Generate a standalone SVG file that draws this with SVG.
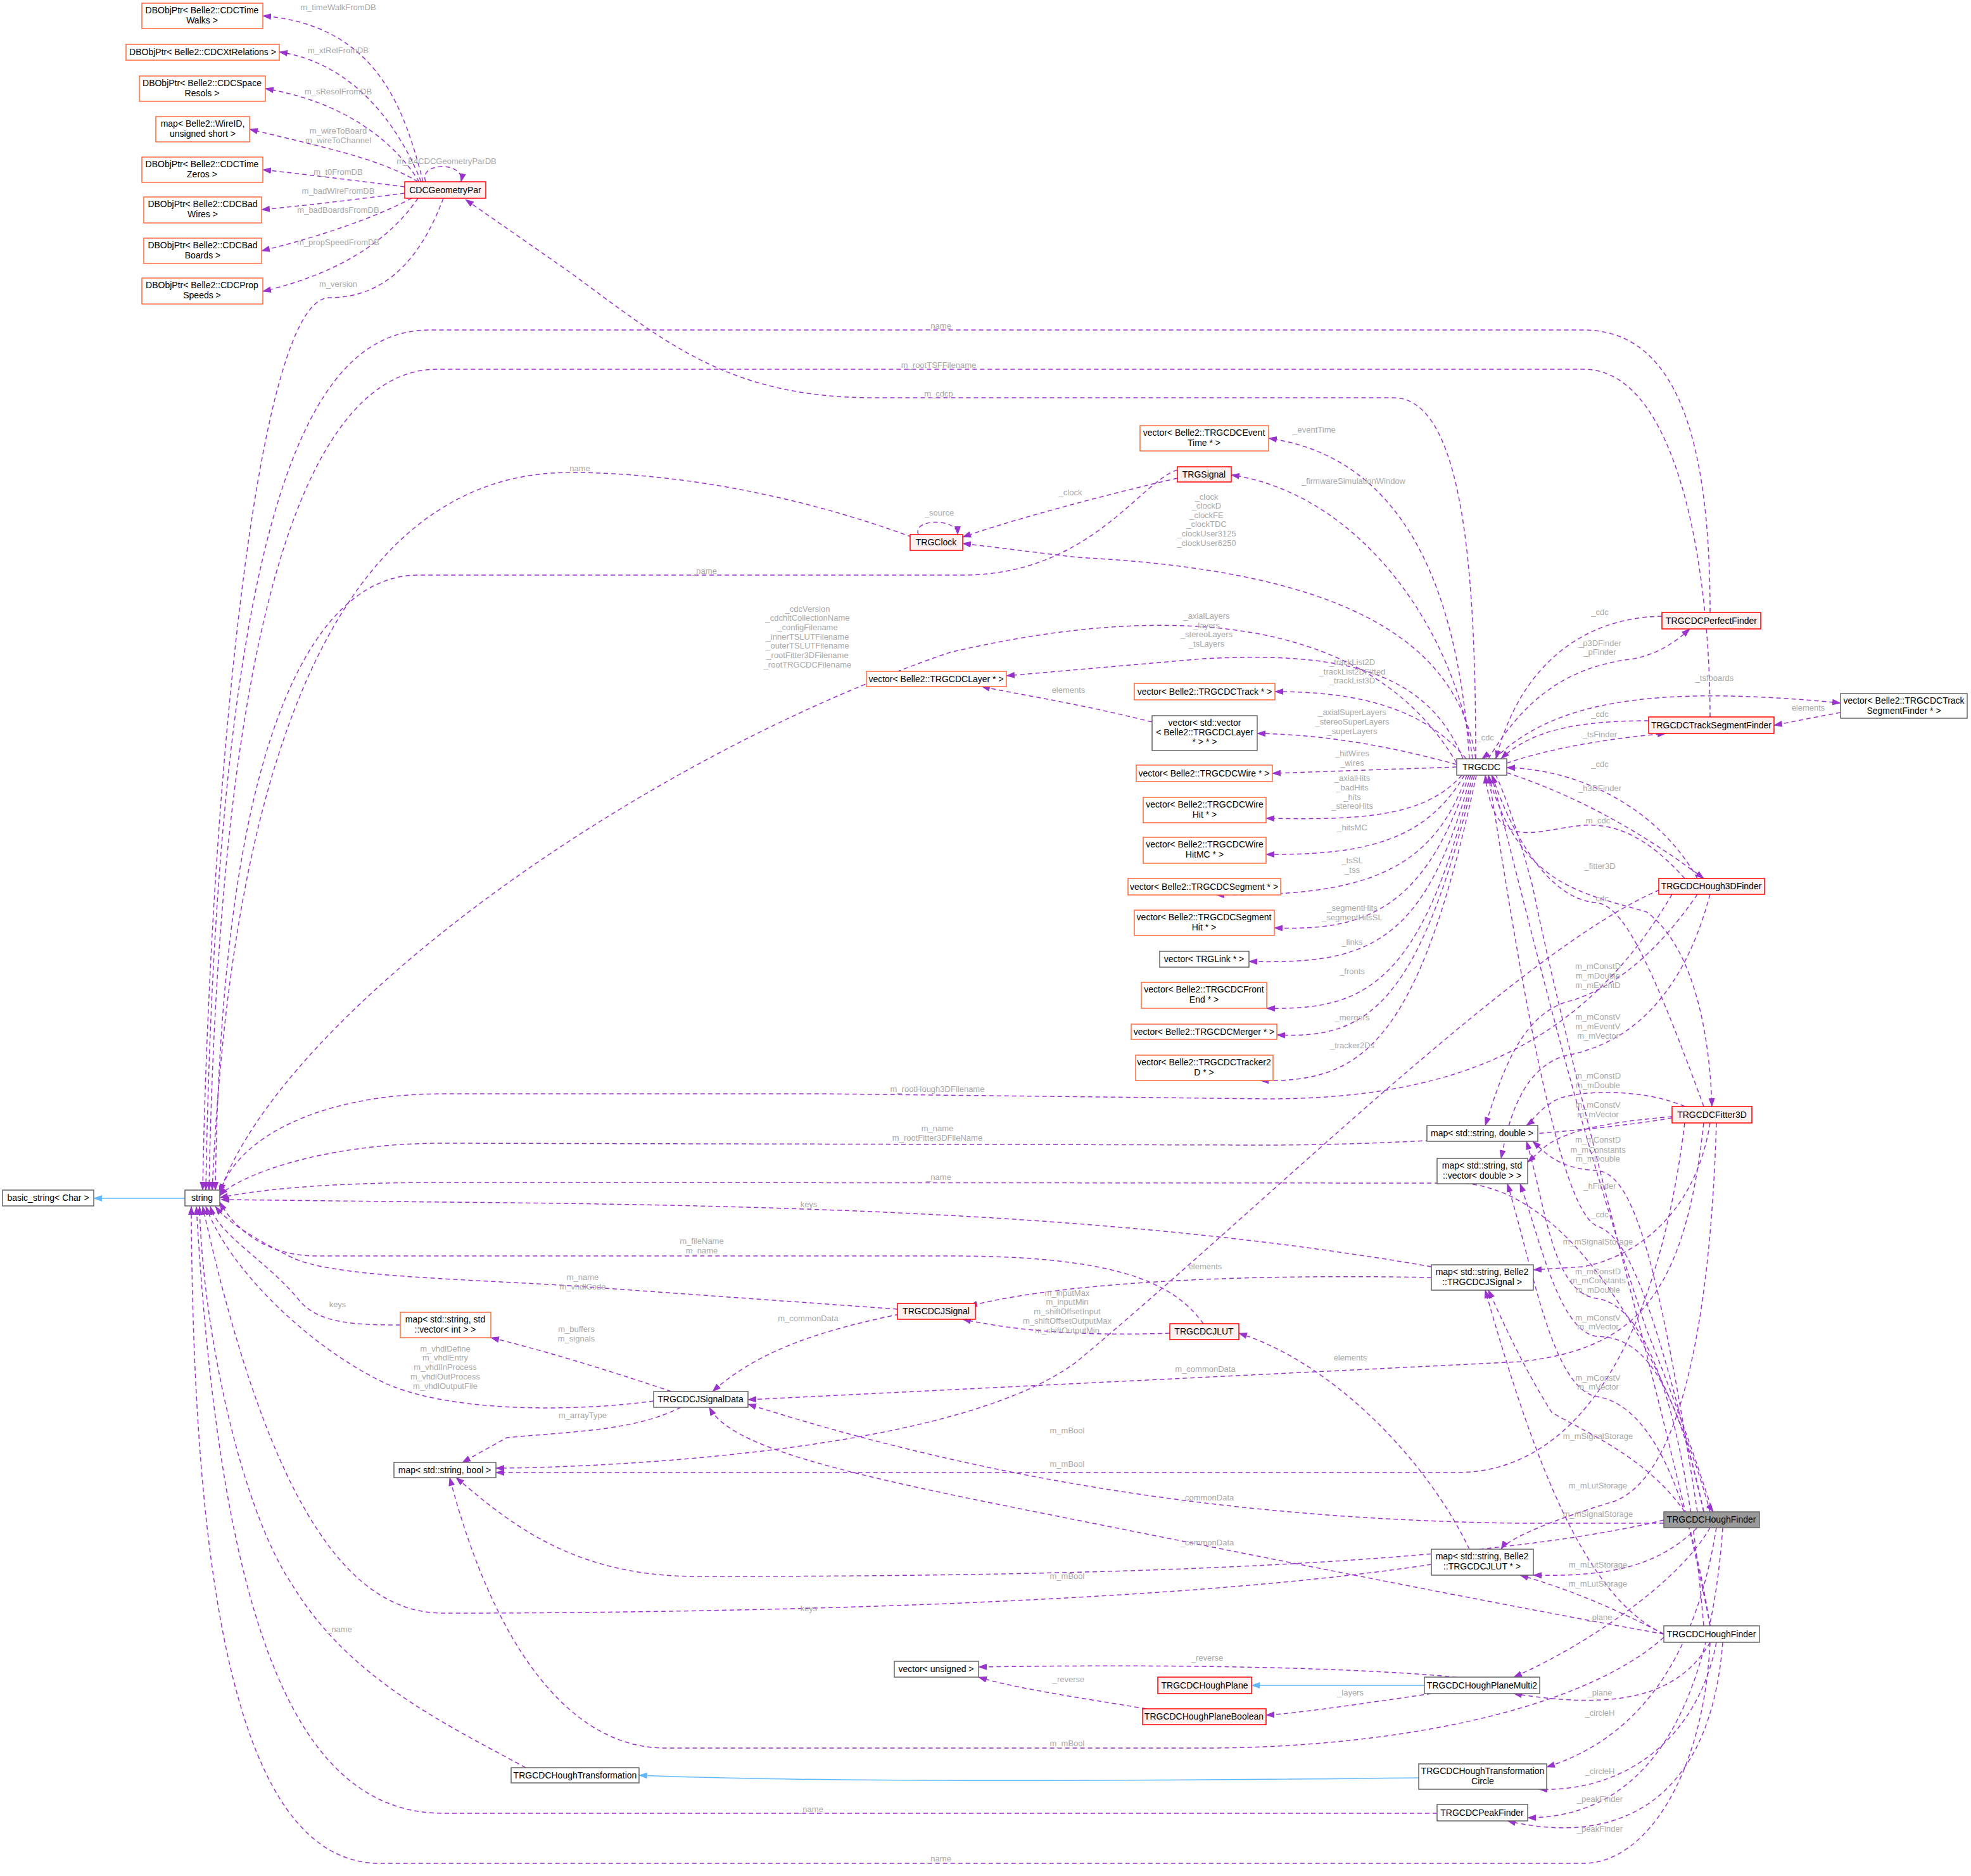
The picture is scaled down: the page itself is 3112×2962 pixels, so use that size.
<svg xmlns="http://www.w3.org/2000/svg" width="3112" height="2962" viewBox="0 0 3112 2962">
<style>
text{font-family:"Liberation Sans",Arial,sans-serif;font-size:14px;text-anchor:middle;fill:#000}
.l{font-size:13px;fill:#a8a8a8}
rect{stroke-width:1.5}
.w{fill:#fff;stroke:#666}
.o{fill:#fff;stroke:#ff6a3d}
.r{fill:#fff0f0;stroke:#ff0000}
.g{fill:#999;stroke:#666}
#edges path{fill:none;stroke:#9a32cd;stroke-width:1.5;stroke-dasharray:7,5;marker-end:url(#a)}
#edges path.i{stroke:#63b8ff;stroke-dasharray:none;marker-end:url(#b)}
</style>
<defs>
<marker id="a" markerWidth="14" markerHeight="10" refX="13" refY="5" orient="auto" markerUnits="userSpaceOnUse"><path d="M0,0 L14,5 L0,10 z" fill="#9a32cd"/></marker>
<marker id="b" markerWidth="14" markerHeight="10" refX="13" refY="5" orient="auto" markerUnits="userSpaceOnUse"><path d="M0,0 L14,5 L0,10 z" fill="#63b8ff"/></marker>
</defs>
<rect width="3112" height="2962" fill="#fff"/>
<g id="edges">
<path d="M668,287 C640,180 600,40 415,25"/>
<path d="M665,287 C630,200 560,100 441,82"/>
<path d="M662,287 C620,220 540,160 419,140"/>
<path d="M660,287 C600,250 500,230 394,204"/>
<path d="M639,295 C560,285 480,275 415,268"/>
<path d="M639,305 C560,315 480,325 413,331"/>
<path d="M650,313 C580,350 480,380 413,396"/>
<path d="M660,313 C600,400 500,440 415,460"/>
<path d="M672,287 C660,255 735,255 728,287"/>
<path d="M700,313 C660,420 600,470 520,470 C400,470 330,1300 320,1879"/>
<path d="M2330,1198 C2330,900 2310,628 2200,628 L1380,628 C1150,628 1050,540 900,430 L735,315"/>
<path d="M2700,967 C2700,700 2650,521 2500,521 L680,521 C520,521 345,700 325,1879"/>
<path d="M2700,1132 C2700,900 2650,583 2500,583 L690,583 C540,583 350,800 330,1879"/>
<path d="M1440,848 C1200,760 1000,746 900,746 C700,746 380,880 335,1879"/>
<path d="M1859,742 C1800,760 1720,908 1520,908 L660,908 C520,908 350,1100 340,1879"/>
<path d="M2300,1205 C2150,950 1800,960 1500,1030 C1000,1200 450,1600 347,1882"/>
<path d="M2640,1412 C2500,1650 2300,1735 2000,1735 L1300,1727 L700,1727 C500,1727 370,1800 347,1885"/>
<path d="M2640,1765 C2500,1790 2200,1808 2000,1808 L700,1805 C500,1805 370,1860 347,1888"/>
<path d="M2700,2387 C2650,2200 2500,1870 2300,1868 L700,1867 C500,1867 400,1880 347,1891"/>
<path d="M2260,2000 C1800,1920 1300,1903 700,1898 L349,1894"/>
<path d="M1900,2090 C1850,2020 1750,1983 1500,1983 L500,1983 C420,1983 370,1940 347,1898"/>
<path d="M1417,2067 L900,2030 C700,2018 520,2015 460,1985 C400,1955 360,1930 340,1905"/>
<path d="M632,2092 C560,2092 500,2090 470,2050 C420,1990 345,1950 332,1905"/>
<path d="M1032,2212 C900,2230 700,2230 600,2180 C480,2120 360,2000 325,1905"/>
<path d="M2260,2470 C1800,2540 1000,2547 700,2547 C560,2547 430,2400 320,1905"/>
<path d="M830,2791 C700,2720 550,2650 460,2500 C380,2380 320,2100 315,1905"/>
<path d="M2269,2863 L700,2863 C480,2863 350,2600 310,1905"/>
<path d="M2700,2593 C2690,2800 2600,2942 2500,2942 L600,2942 C400,2942 305,2600 302,1905"/>
<path class="i" d="M292,1892 L148,1892"/>
<path d="M2320,1198 C2300,900 2200,720 2003,692"/>
<path d="M2325,1198 C2300,1000 2150,780 1944,750"/>
<path d="M2330,1198 C2300,1000 2100,900 1700,880 L1520,858"/>
<path d="M2310,1198 C2250,1050 2100,1030 1900,1040 L1589,1067"/>
<path d="M2315,1198 C2250,1120 2150,1092 2013,1092"/>
<path d="M2300,1207 C2200,1180 2100,1160 1985,1158"/>
<path d="M2300,1211 L2009,1221"/>
<path d="M2308,1224 C2250,1290 2150,1295 1999,1292"/>
<path d="M2312,1224 C2250,1330 2150,1350 1999,1349"/>
<path d="M2316,1224 C2260,1380 2150,1415 1920,1413"/>
<path d="M2319,1224 C2250,1440 2150,1470 2012,1465"/>
<path d="M2322,1224 C2250,1500 2150,1522 1972,1518"/>
<path d="M2325,1224 C2245,1560 2150,1595 2000,1592"/>
<path d="M2328,1224 C2240,1600 2150,1640 2016,1634"/>
<path d="M2331,1224 C2240,1650 2150,1710 1990,1706"/>
<path d="M2360,1198 C2450,1110 2600,1080 2906,1110"/>
<path d="M2350,1198 C2420,1080 2500,1050 2580,1040 C2630,1030 2660,1000 2668,993"/>
<path d="M2624,973 C2500,975 2400,1050 2362,1198"/>
<path d="M2379,1205 C2450,1180 2550,1165 2630,1158"/>
<path d="M2603,1138 C2500,1138 2420,1150 2370,1198"/>
<path d="M2680,1387 C2620,1280 2500,1215 2379,1212"/>
<path d="M2379,1220 C2500,1260 2600,1320 2690,1387"/>
<path d="M2660,1387 C2600,1320 2550,1300 2500,1303 C2420,1310 2360,1350 2345,1224"/>
<path d="M2350,1224 C2400,1400 2500,1410 2600,1440 C2680,1500 2700,1650 2703,1747"/>
<path d="M2690,1747 C2600,1500 2560,1430 2520,1425 C2440,1420 2380,1300 2356,1224"/>
<path d="M2355,1224 C2450,1600 2500,1800 2600,2100 C2680,2300 2700,2380 2705,2387"/>
<path d="M2690,2387 C2600,2000 2560,1950 2520,1935 C2450,1900 2380,1400 2350,1224"/>
<path d="M2700,2567 C2650,2300 2480,1700 2420,1400 C2380,1250 2350,1190 2340,1198"/>
<path d="M2680,1412 C2620,1500 2550,1560 2480,1580 C2400,1600 2370,1700 2345,1777"/>
<path d="M2700,1412 C2650,1600 2550,1650 2480,1665 C2400,1680 2380,1780 2370,1829"/>
<path d="M2620,1405 C2400,1500 2000,1900 1700,2150 C1500,2300 900,2318 783,2318"/>
<path d="M2660,1747 C2600,1720 2500,1720 2460,1735 C2430,1750 2420,1770 2410,1777"/>
<path d="M2640,1763 C2560,1770 2480,1780 2440,1810 L2412,1835"/>
<path d="M2700,1773 C2680,1900 2600,1980 2500,2000 L2421,2005"/>
<path d="M2690,1773 C2660,2050 2580,2130 2400,2150 L1181,2210"/>
<path d="M2710,1773 C2700,2100 2650,2330 2550,2370 C2450,2400 2380,2430 2370,2446"/>
<path d="M2660,1773 C2620,2100 2500,2325 2300,2325 L783,2325"/>
<path d="M2680,2387 C2620,2000 2580,1850 2520,1848 C2460,1845 2440,1820 2420,1802"/>
<path d="M2690,2387 C2640,2150 2580,2110 2520,2110 C2460,2100 2430,1950 2400,1869"/>
<path d="M2690,2567 C2650,2100 2560,2055 2520,2050 C2450,2040 2440,1900 2410,1802"/>
<path d="M2700,2567 C2650,2250 2560,2210 2520,2205 C2450,2190 2420,2000 2380,1869"/>
<path d="M2660,2387 C2600,2300 2500,2260 2450,2230 C2400,2150 2370,2080 2350,2037"/>
<path d="M2627,2580 C2500,2520 2420,2300 2345,2037"/>
<path d="M2627,2405 L2400,2405 C2000,2400 1600,2350 1181,2217"/>
<path d="M2627,2580 C2400,2540 1900,2440 1600,2380 C1300,2320 1150,2280 1120,2222"/>
<path d="M2627,2400 C2300,2480 1600,2489 1100,2489 C900,2489 800,2400 720,2333"/>
<path d="M2627,2585 C2500,2700 2200,2760 1900,2760 L1050,2760 C900,2760 780,2600 710,2333"/>
<path d="M2680,2412 C2620,2470 2550,2490 2421,2487"/>
<path d="M2627,2580 C2550,2540 2480,2510 2400,2487"/>
<path d="M2700,2412 C2650,2500 2500,2600 2390,2648"/>
<path d="M2700,2593 C2650,2680 2550,2700 2390,2674"/>
<path d="M2710,2412 C2680,2600 2600,2740 2442,2790"/>
<path d="M2710,2593 C2680,2750 2560,2830 2430,2825"/>
<path d="M2720,2412 C2700,2700 2600,2870 2412,2870"/>
<path d="M2720,2593 C2700,2850 2550,2915 2380,2875"/>
<path d="M2260,2017 C2000,2012 1700,2020 1530,2062"/>
<path d="M2320,2446 C2250,2300 2100,2150 1956,2105"/>
<path d="M1847,2105 C1700,2110 1600,2100 1520,2083"/>
<path d="M1420,2075 C1300,2100 1200,2130 1125,2197"/>
<path d="M1060,2197 C950,2160 850,2130 775,2112"/>
<path d="M1075,2222 C1000,2260 900,2260 800,2270 L730,2309"/>
<path d="M2300,2648 C2100,2630 1800,2628 1545,2632"/>
<path d="M1810,2698 C1700,2680 1600,2665 1545,2648"/>
<path d="M2260,2674 C2150,2690 2050,2705 1999,2708"/>
<path class="i" d="M2249,2661 L1976,2661"/>
<path class="i" d="M2240,2807 C1800,2812 1300,2815 1009,2803"/>
<path d="M2906,1125 C2850,1135 2830,1140 2801,1145"/>
<path d="M1819,1140 C1700,1110 1600,1095 1550,1084"/>
<path d="M1859,755 C1750,780 1600,820 1520,848"/>
<path d="M1450,844 C1440,818 1512,818 1512,844"/>
</g>
<g id="labels">
<text class="l" x="534" y="16">m_timeWalkFromDB</text>
<text class="l" x="534" y="84">m_xtRelFromDB</text>
<text class="l" x="534" y="149">m_sResolFromDB</text>
<text class="l" x="534" y="211">m_wireToBoard</text>
<text class="l" x="534" y="226">m_wireToChannel</text>
<text class="l" x="705" y="259">m_B4CDCGeometryParDB</text>
<text class="l" x="534" y="276">m_t0FromDB</text>
<text class="l" x="534" y="306">m_badWireFromDB</text>
<text class="l" x="534" y="336">m_badBoardsFromDB</text>
<text class="l" x="534" y="387">m_propSpeedFromDB</text>
<text class="l" x="534" y="453">m_version</text>
<text class="l" x="1482" y="519">_name</text>
<text class="l" x="1482" y="581">m_rootTSFFilename</text>
<text class="l" x="1482" y="626">m_cdcp</text>
<text class="l" x="912" y="744">_name</text>
<text class="l" x="1112" y="906">_name</text>
<text class="l" x="2075" y="683">_eventTime</text>
<text class="l" x="2137" y="764">_firmwareSimulationWindow</text>
<text class="l" x="1690" y="782">_clock</text>
<text class="l" x="1483" y="814">_source</text>
<text class="l" x="1905" y="789">_clock</text>
<text class="l" x="1905" y="803">_clockD</text>
<text class="l" x="1905" y="818">_clockFE</text>
<text class="l" x="1905" y="832">_clockTDC</text>
<text class="l" x="1905" y="847">_clockUser3125</text>
<text class="l" x="1905" y="862">_clockUser6250</text>
<text class="l" x="1275" y="966">_cdcVersion</text>
<text class="l" x="1275" y="980">_cdchitCollectionName</text>
<text class="l" x="1275" y="995">_configFilename</text>
<text class="l" x="1275" y="1010">_innerTSLUTFilename</text>
<text class="l" x="1275" y="1024">_outerTSLUTFilename</text>
<text class="l" x="1275" y="1039">_rootFitter3DFilename</text>
<text class="l" x="1275" y="1054">_rootTRGCDCFilename</text>
<text class="l" x="1905" y="977">_axialLayers</text>
<text class="l" x="1905" y="992">_layers</text>
<text class="l" x="1905" y="1006">_stereoLayers</text>
<text class="l" x="1905" y="1021">_tsLayers</text>
<text class="l" x="1687" y="1094">elements</text>
<text class="l" x="2135" y="1050">_trackList2D</text>
<text class="l" x="2135" y="1065">_trackList2DFitted</text>
<text class="l" x="2135" y="1079">_trackList3D</text>
<text class="l" x="2135" y="1129">_axialSuperLayers</text>
<text class="l" x="2135" y="1144">_stereoSuperLayers</text>
<text class="l" x="2135" y="1159">_superLayers</text>
<text class="l" x="2135" y="1194">_hitWires</text>
<text class="l" x="2135" y="1209">_wires</text>
<text class="l" x="2135" y="1233">_axialHits</text>
<text class="l" x="2135" y="1248">_badHits</text>
<text class="l" x="2135" y="1263">_hits</text>
<text class="l" x="2135" y="1277">_stereoHits</text>
<text class="l" x="2135" y="1311">_hitsMC</text>
<text class="l" x="2135" y="1363">_tsSL</text>
<text class="l" x="2135" y="1378">_tss</text>
<text class="l" x="2135" y="1438">_segmentHits</text>
<text class="l" x="2135" y="1453">_segmentHitsSL</text>
<text class="l" x="2135" y="1492">_links</text>
<text class="l" x="2135" y="1538">_fronts</text>
<text class="l" x="2135" y="1611">_mergers</text>
<text class="l" x="2135" y="1655">_tracker2Ds</text>
<text class="l" x="2526" y="971">_cdc</text>
<text class="l" x="2526" y="1020">_p3DFinder</text>
<text class="l" x="2526" y="1034">_pFinder</text>
<text class="l" x="2707" y="1075">_tsfboards</text>
<text class="l" x="2855" y="1122">elements</text>
<text class="l" x="2526" y="1132">_cdc</text>
<text class="l" x="2526" y="1164">_tsFinder</text>
<text class="l" x="2345" y="1169">_cdc</text>
<text class="l" x="2526" y="1211">_cdc</text>
<text class="l" x="2526" y="1249">_h3DFinder</text>
<text class="l" x="2523" y="1300">m_cdc</text>
<text class="l" x="2526" y="1372">_fitter3D</text>
<text class="l" x="2526" y="1423">_cdc</text>
<text class="l" x="2523" y="1530">m_mConstD</text>
<text class="l" x="2523" y="1545">m_mDouble</text>
<text class="l" x="2523" y="1560">m_mEventD</text>
<text class="l" x="2523" y="1610">m_mConstV</text>
<text class="l" x="2523" y="1625">m_mEventV</text>
<text class="l" x="2523" y="1640">m_mVector</text>
<text class="l" x="2523" y="1703">m_mConstD</text>
<text class="l" x="2523" y="1718">m_mDouble</text>
<text class="l" x="2523" y="1749">m_mConstV</text>
<text class="l" x="2523" y="1764">m_mVector</text>
<text class="l" x="2523" y="1804">m_mConstD</text>
<text class="l" x="2523" y="1820">m_mConstants</text>
<text class="l" x="2523" y="1834">m_mDouble</text>
<text class="l" x="2526" y="1877">_hFinder</text>
<text class="l" x="2526" y="1922">_cdc</text>
<text class="l" x="2523" y="1965">m_mSignalStorage</text>
<text class="l" x="2523" y="2012">m_mConstD</text>
<text class="l" x="2523" y="2026">m_mConstants</text>
<text class="l" x="2523" y="2041">m_mDouble</text>
<text class="l" x="2523" y="2085">m_mConstV</text>
<text class="l" x="2523" y="2099">m_mVector</text>
<text class="l" x="2523" y="2180">m_mConstV</text>
<text class="l" x="2523" y="2194">m_mVector</text>
<text class="l" x="2523" y="2272">m_mSignalStorage</text>
<text class="l" x="2523" y="2350">m_mLutStorage</text>
<text class="l" x="2523" y="2395">m_mSignalStorage</text>
<text class="l" x="2523" y="2475">m_mLutStorage</text>
<text class="l" x="2523" y="2505">m_mLutStorage</text>
<text class="l" x="2526" y="2558">_plane</text>
<text class="l" x="2526" y="2677">_plane</text>
<text class="l" x="2526" y="2709">_circleH</text>
<text class="l" x="2526" y="2801">_circleH</text>
<text class="l" x="2526" y="2845">_peakFinder</text>
<text class="l" x="2526" y="2892">_peakFinder</text>
<text class="l" x="1480" y="1724">m_rootHough3DFilename</text>
<text class="l" x="1480" y="1786">m_name</text>
<text class="l" x="1480" y="1801">m_rootFitter3DFileName</text>
<text class="l" x="1482" y="1863">_name</text>
<text class="l" x="1277" y="1906">keys</text>
<text class="l" x="1108" y="1964">m_fileName</text>
<text class="l" x="1108" y="1979">m_name</text>
<text class="l" x="920" y="2021">m_name</text>
<text class="l" x="920" y="2036">m_vhdlCode</text>
<text class="l" x="533" y="2064">keys</text>
<text class="l" x="1903" y="2004">elements</text>
<text class="l" x="1685" y="2046">m_inputMax</text>
<text class="l" x="1685" y="2060">m_inputMin</text>
<text class="l" x="1685" y="2075">m_shiftOffsetInput</text>
<text class="l" x="1685" y="2090">m_shiftOffsetOutputMax</text>
<text class="l" x="1685" y="2105">m_shiftOutputMin</text>
<text class="l" x="1276" y="2086">m_commonData</text>
<text class="l" x="910" y="2103">m_buffers</text>
<text class="l" x="910" y="2118">m_signals</text>
<text class="l" x="703" y="2134">m_vhdlDefine</text>
<text class="l" x="703" y="2148">m_vhdlEntry</text>
<text class="l" x="703" y="2163">m_vhdlInProcess</text>
<text class="l" x="703" y="2178">m_vhdlOutProcess</text>
<text class="l" x="703" y="2193">m_vhdlOutputFile</text>
<text class="l" x="2132" y="2148">elements</text>
<text class="l" x="1903" y="2166">m_commonData</text>
<text class="l" x="920" y="2239">m_arrayType</text>
<text class="l" x="1685" y="2263">m_mBool</text>
<text class="l" x="1685" y="2316">m_mBool</text>
<text class="l" x="1906" y="2369">_commonData</text>
<text class="l" x="1906" y="2440">_commonData</text>
<text class="l" x="1685" y="2493">m_mBool</text>
<text class="l" x="1277" y="2544">keys</text>
<text class="l" x="536" y="2577">_name</text>
<text class="l" x="1906" y="2622">_reverse</text>
<text class="l" x="1687" y="2656">_reverse</text>
<text class="l" x="2132" y="2677">_layers</text>
<text class="l" x="1685" y="2757">m_mBool</text>
<text class="l" x="1280" y="2861">_name</text>
<text class="l" x="1482" y="2939">_name</text>
</g>
<g id="n1"><rect class="o" x="224" y="5" width="191" height="40"/><text x="319" y="21">DBObjPtr&lt; Belle2::CDCTime</text><text x="319" y="37">Walks &gt;</text></g>
<g id="n2"><rect class="o" x="199" y="70" width="242" height="25"/><text x="320" y="87">DBObjPtr&lt; Belle2::CDCXtRelations &gt;</text></g>
<g id="n3"><rect class="o" x="220" y="120" width="199" height="40"/><text x="319" y="136">DBObjPtr&lt; Belle2::CDCSpace</text><text x="319" y="152">Resols &gt;</text></g>
<g id="n4"><rect class="o" x="246" y="184" width="148" height="40"/><text x="320" y="200">map&lt; Belle2::WireID,</text><text x="320" y="216">unsigned short &gt;</text></g>
<g id="n5"><rect class="o" x="224" y="248" width="191" height="40"/><text x="319" y="264">DBObjPtr&lt; Belle2::CDCTime</text><text x="319" y="280">Zeros &gt;</text></g>
<g id="n6"><rect class="o" x="227" y="311" width="186" height="41"/><text x="320" y="327">DBObjPtr&lt; Belle2::CDCBad</text><text x="320" y="343">Wires &gt;</text></g>
<g id="n7"><rect class="o" x="227" y="376" width="186" height="40"/><text x="320" y="392">DBObjPtr&lt; Belle2::CDCBad</text><text x="320" y="408">Boards &gt;</text></g>
<g id="n8"><rect class="o" x="224" y="439" width="191" height="41"/><text x="319" y="455">DBObjPtr&lt; Belle2::CDCProp</text><text x="319" y="471">Speeds &gt;</text></g>
<g id="n9"><rect class="r" x="639" y="287" width="128" height="26"/><text x="703" y="305">CDCGeometryPar</text></g>
<g id="n10"><rect class="r" x="1437" y="844" width="83" height="25"/><text x="1478" y="861">TRGClock</text></g>
<g id="n11"><rect class="r" x="1859" y="737" width="85" height="24"/><text x="1901" y="754">TRGSignal</text></g>
<g id="n12"><rect class="o" x="1800" y="672" width="203" height="40"/><text x="1901" y="688">vector&lt; Belle2::TRGCDCEvent</text><text x="1901" y="704">Time * &gt;</text></g>
<g id="n13"><rect class="o" x="1368" y="1060" width="221" height="24"/><text x="1478" y="1077">vector&lt; Belle2::TRGCDCLayer * &gt;</text></g>
<g id="n14"><rect class="o" x="1791" y="1079" width="222" height="26"/><text x="1902" y="1097">vector&lt; Belle2::TRGCDCTrack * &gt;</text></g>
<g id="n15"><rect class="w" x="1819" y="1130" width="166" height="55"/><text x="1902" y="1146">vector&lt; std::vector</text><text x="1902" y="1161">&lt; Belle2::TRGCDCLayer</text><text x="1902" y="1176">* &gt; * &gt;</text></g>
<g id="n16"><rect class="o" x="1794" y="1208" width="215" height="26"/><text x="1901" y="1226">vector&lt; Belle2::TRGCDCWire * &gt;</text></g>
<g id="n17"><rect class="o" x="1805" y="1259" width="194" height="40"/><text x="1902" y="1275">vector&lt; Belle2::TRGCDCWire</text><text x="1902" y="1291">Hit * &gt;</text></g>
<g id="n18"><rect class="o" x="1805" y="1322" width="194" height="41"/><text x="1902" y="1338">vector&lt; Belle2::TRGCDCWire</text><text x="1902" y="1354">HitMC * &gt;</text></g>
<g id="n19"><rect class="o" x="1781" y="1387" width="241" height="26"/><text x="1901" y="1405">vector&lt; Belle2::TRGCDCSegment * &gt;</text></g>
<g id="n20"><rect class="o" x="1791" y="1437" width="221" height="40"/><text x="1901" y="1453">vector&lt; Belle2::TRGCDCSegment</text><text x="1901" y="1469">Hit * &gt;</text></g>
<g id="n21"><rect class="w" x="1831" y="1502" width="141" height="25"/><text x="1901" y="1519">vector&lt; TRGLink * &gt;</text></g>
<g id="n22"><rect class="o" x="1802" y="1551" width="198" height="41"/><text x="1901" y="1567">vector&lt; Belle2::TRGCDCFront</text><text x="1901" y="1583">End * &gt;</text></g>
<g id="n23"><rect class="o" x="1786" y="1617" width="230" height="24"/><text x="1901" y="1634">vector&lt; Belle2::TRGCDCMerger * &gt;</text></g>
<g id="n24"><rect class="o" x="1793" y="1666" width="217" height="40"/><text x="1901" y="1682">vector&lt; Belle2::TRGCDCTracker2</text><text x="1901" y="1698">D * &gt;</text></g>
<g id="n25"><rect class="w" x="2300" y="1198" width="79" height="26"/><text x="2339" y="1216">TRGCDC</text></g>
<g id="n26"><rect class="r" x="2624" y="967" width="156" height="26"/><text x="2702" y="985">TRGCDCPerfectFinder</text></g>
<g id="n27"><rect class="w" x="2906" y="1095" width="200" height="39"/><text x="3006" y="1111">vector&lt; Belle2::TRGCDCTrack</text><text x="3006" y="1127">SegmentFinder * &gt;</text></g>
<g id="n28"><rect class="r" x="2603" y="1132" width="198" height="26"/><text x="2702" y="1150">TRGCDCTrackSegmentFinder</text></g>
<g id="n29"><rect class="r" x="2619" y="1387" width="167" height="25"/><text x="2702" y="1404">TRGCDCHough3DFinder</text></g>
<g id="n30"><rect class="r" x="2640" y="1747" width="126" height="26"/><text x="2703" y="1765">TRGCDCFitter3D</text></g>
<g id="n31"><rect class="w" x="2253" y="1777" width="175" height="25"/><text x="2340" y="1794">map&lt; std::string, double &gt;</text></g>
<g id="n32"><rect class="w" x="2269" y="1829" width="143" height="40"/><text x="2340" y="1845">map&lt; std::string, std</text><text x="2340" y="1861">::vector&lt; double &gt; &gt;</text></g>
<g id="n33"><rect class="w" x="2260" y="1997" width="161" height="40"/><text x="2340" y="2013">map&lt; std::string, Belle2</text><text x="2340" y="2029">::TRGCDCJSignal &gt;</text></g>
<g id="n34"><rect class="r" x="1847" y="2090" width="109" height="25"/><text x="1901" y="2107">TRGCDCJLUT</text></g>
<g id="n35"><rect class="g" x="2627" y="2387" width="151" height="25"/><text x="2702" y="2404">TRGCDCHoughFinder</text></g>
<g id="n36"><rect class="w" x="2260" y="2446" width="161" height="41"/><text x="2340" y="2462">map&lt; std::string, Belle2</text><text x="2340" y="2478">::TRGCDCJLUT * &gt;</text></g>
<g id="n37"><rect class="w" x="2627" y="2567" width="151" height="26"/><text x="2702" y="2585">TRGCDCHoughFinder</text></g>
<g id="n38"><rect class="w" x="2249" y="2648" width="182" height="26"/><text x="2340" y="2666">TRGCDCHoughPlaneMulti2</text></g>
<g id="n39"><rect class="r" x="1828" y="2648" width="148" height="26"/><text x="1902" y="2666">TRGCDCHoughPlane</text></g>
<g id="n40"><rect class="r" x="1804" y="2698" width="195" height="25"/><text x="1901" y="2715">TRGCDCHoughPlaneBoolean</text></g>
<g id="n41"><rect class="w" x="2240" y="2785" width="202" height="40"/><text x="2341" y="2801">TRGCDCHoughTransformation</text><text x="2341" y="2817">Circle</text></g>
<g id="n42"><rect class="w" x="2269" y="2849" width="143" height="26"/><text x="2340" y="2867">TRGCDCPeakFinder</text></g>
<g id="n43"><rect class="w" x="4" y="1879" width="144" height="25"/><text x="76" y="1896">basic_string&lt; Char &gt;</text></g>
<g id="n44"><rect class="w" x="292" y="1879" width="55" height="25"/><text x="319" y="1896">string</text></g>
<g id="n45"><rect class="o" x="632" y="2072" width="143" height="40"/><text x="703" y="2088">map&lt; std::string, std</text><text x="703" y="2104">::vector&lt; int &gt; &gt;</text></g>
<g id="n46"><rect class="r" x="1417" y="2058" width="123" height="25"/><text x="1478" y="2075">TRGCDCJSignal</text></g>
<g id="n47"><rect class="w" x="1032" y="2197" width="149" height="25"/><text x="1106" y="2214">TRGCDCJSignalData</text></g>
<g id="n48"><rect class="w" x="622" y="2309" width="161" height="24"/><text x="702" y="2326">map&lt; std::string, bool &gt;</text></g>
<g id="n49"><rect class="w" x="1412" y="2623" width="133" height="25"/><text x="1478" y="2640">vector&lt; unsigned &gt;</text></g>
<g id="n50"><rect class="w" x="807" y="2791" width="202" height="24"/><text x="908" y="2808">TRGCDCHoughTransformation</text></g>
</svg>
